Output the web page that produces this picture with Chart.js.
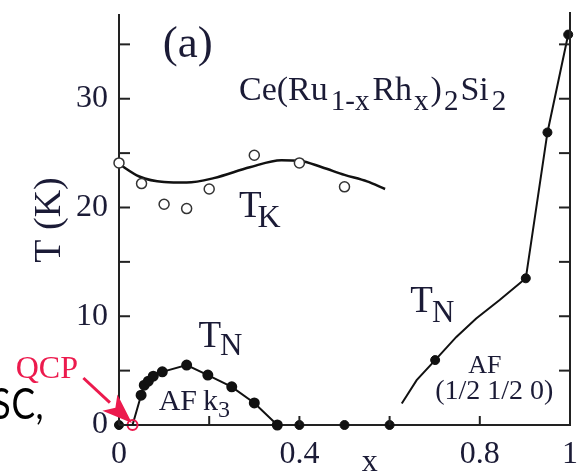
<!DOCTYPE html>
<html><head><meta charset="utf-8">
<script src="https://cdn.jsdelivr.net/npm/chart.js@4.4.1/dist/chart.umd.min.js"></script>
<style>html,body{margin:0;padding:0;background:#fff;overflow:hidden}#wrap{width:577px;height:472px;position:relative}</style>
</head><body><div id="wrap"><canvas id="c"></canvas></div>
<script>
// ---- data ----
const tkX = [0, 0.05, 0.10, 0.15, 0.20, 0.30, 0.40, 0.50];
const tkY = [24.1, 22.2, 20.3, 19.9, 21.7, 24.8, 24.1, 21.9];
const tkFitX = [0, 0.045, 0.10, 0.15, 0.21, 0.29, 0.36, 0.40, 0.45, 0.50, 0.55, 0.59];
const tkFitY = [24.0, 22.85, 22.35, 22.3, 22.7, 23.7, 24.35, 24.3, 23.7, 23.0, 22.4, 21.7];
const tnK3X = [0.03, 0.049, 0.056, 0.065, 0.076, 0.096, 0.15, 0.197, 0.25, 0.30, 0.351];
const tnK3Y = [0, 2.74, 3.66, 4.03, 4.49, 4.89, 5.51, 4.59, 3.51, 2.03, 0];
const zeroX = [0, 0.40, 0.50, 0.60];
const zeroY = [0, 0, 0, 0];
const tnHLineX = [0.627, 0.66, 0.701, 0.748, 0.792, 0.844, 0.902, 0.950, 0.996];
const tnHLineY = [1.98, 4.12, 5.97, 8.1, 9.8, 11.5, 13.49, 26.9, 35.9];
const tnHX = [0.701, 0.902, 0.950, 0.996];
const tnHY = [5.97, 13.49, 26.9, 35.9];
const qcpX = [0.03];
const qcpY = [0];
const xLabelVals = [0, 0.4, 0.8, 1];
const xLabelTexts = ['0', '0.4', '0.8', '1'];
const yLabelVals = [0, 10, 20, 30];
const yLabelTexts = ['0', '10', '20', '30'];

const pts = (xs, ys) => xs.map((x, i) => ({x: x, y: ys[i]}));
const SERIF = '"Liberation Serif", "DejaVu Serif", serif';
const TXT = '#1b1b36';
const INK = '#111111';

function seq(ctx, x, y, parts) {
  let cx = x;
  parts.forEach(p => {
    ctx.font = p.size + 'px ' + SERIF;
    cx += (p.pre || 0);
    ctx.fillText(p.t, cx, y + (p.dy || 0));
    cx += ctx.measureText(p.t).width + (p.post || 0);
  });
}

const overlay = {
  id: 'overlay',
  afterDraw(chart) {
    const ctx = chart.ctx, a = chart.chartArea;
    const xs = chart.scales.x, ys = chart.scales.y;
    const P = (xv, yv) => [xs.getPixelForValue(xv), ys.getPixelForValue(yv)];
    ctx.save();
    // right border
    ctx.strokeStyle = '#222'; ctx.lineWidth = 2;
    ctx.beginPath(); ctx.moveTo(a.right, a.top - 3); ctx.lineTo(a.right, a.bottom + 1); ctx.stroke();
    // inward ticks
    xs.ticks.forEach(t => {
      const px = xs.getPixelForValue(t.value);
      ctx.beginPath(); ctx.moveTo(px, a.bottom); ctx.lineTo(px, a.bottom - 9); ctx.stroke();
    });
    ys.ticks.forEach(t => {
      const py = ys.getPixelForValue(t.value);
      ctx.beginPath(); ctx.moveTo(a.left, py); ctx.lineTo(a.left + 11, py); ctx.stroke();
      ctx.beginPath(); ctx.moveTo(a.right, py); ctx.lineTo(a.right - 11, py); ctx.stroke();
    });
    // texts
    ctx.fillStyle = TXT; ctx.textBaseline = 'alphabetic'; ctx.textAlign = 'left';
    let p = P(0.097, 33.8);
    seq(ctx, p[0], p[1], [{t: '(a)', size: 45}]);
    p = P(0.266, 29.89);
    seq(ctx, p[0], p[1], [
      {t: 'Ce(Ru', size: 34},
      {t: '1-x', size: 29, dy: 10, pre: 3, post: 3},
      {t: 'Rh', size: 34},
      {t: 'x', size: 29, dy: 10, pre: 2, post: 2},
      {t: ')', size: 34},
      {t: '2', size: 29, dy: 10, pre: 2, post: 2},
      {t: 'Si', size: 34},
      {t: '2', size: 29, dy: 10, pre: 3}
    ]);
    p = P(0.266, 19.13);
    seq(ctx, p[0], p[1], [{t: 'T', size: 37, post: -4}, {t: 'K', size: 32, dy: 10}]);
    p = P(0.176, 7.17);
    seq(ctx, p[0], p[1], [{t: 'T', size: 37, post: -1}, {t: 'N', size: 31, dy: 8}]);
    p = P(0.646, 10.39);
    seq(ctx, p[0], p[1], [{t: 'T', size: 37, post: -1}, {t: 'N', size: 31, dy: 10}]);
    p = P(0.088, 1.38);
    seq(ctx, p[0], p[1], [{t: 'AF', size: 30, post: 6}, {t: 'k', size: 30}, {t: '3', size: 24, dy: 7}]);
    ctx.textAlign = 'center';
    ctx.font = '26px ' + SERIF;
    p = P(0.811, 4.78); ctx.fillText('AF', p[0], p[1]);
    ctx.font = '28px ' + SERIF;
    p = P(0.832, 2.35); ctx.fillText('(1/2 1/2 0)', p[0], p[1]);
    // axis titles
    ctx.font = '32px ' + SERIF;
    p = P(0.556, -4.23); ctx.fillText('x', p[0], p[1]);
    p = P(-0.130, 18.85);
    ctx.save(); ctx.translate(p[0], p[1]); ctx.rotate(-Math.PI / 2);
    ctx.font = '38px ' + SERIF; ctx.fillText('T (K)', 0, 0); ctx.restore();
    // QCP
    ctx.textAlign = 'left';
    ctx.fillStyle = '#ec1a4d'; ctx.strokeStyle = '#ec1a4d';
    ctx.font = '32px ' + SERIF;
    p = P(-0.229, 4.35); ctx.fillText('QCP', p[0], p[1]);
    const s = P(-0.079, 4.32), e = P(0.0286, 0.18);
    const ang = Math.atan2(e[1] - s[1], e[0] - s[0]);
    const hl = 30, hw = 11;
    const bx = e[0] - hl * Math.cos(ang), by = e[1] - hl * Math.sin(ang);
    ctx.lineWidth = 3;
    ctx.beginPath(); ctx.moveTo(s[0], s[1]); ctx.lineTo(bx, by); ctx.stroke();
    ctx.beginPath();
    ctx.moveTo(e[0], e[1]);
    ctx.lineTo(bx + hw * Math.sin(ang), by - hw * Math.cos(ang));
    ctx.lineTo(e[0] - 0.75 * hl * Math.cos(ang), e[1] - 0.75 * hl * Math.sin(ang));
    ctx.lineTo(bx - hw * Math.sin(ang), by + hw * Math.cos(ang));
    ctx.closePath(); ctx.fill();
    // SC, (slide text partly cut at the left edge)
    ctx.fillStyle = '#000';
    ctx.font = '43px Lato, "Open Sans", sans-serif';
    p = P(-0.165, 0.55);
    const base = p[1];
    const drawScaled = (t, x, align) => {
      ctx.save(); ctx.translate(x, base); ctx.scale(0.82, 1);
      ctx.textAlign = align; ctx.fillText(t, 0, 0); ctx.restore();
    };
    drawScaled(',', p[0] - 9, 'left');
    drawScaled('C', p[0] - 33, 'left');
    drawScaled('S', p[0] - 34, 'right');
    ctx.restore();
  }
};

new Chart(document.getElementById('c'), {
  type: 'scatter',
  data: {
    datasets: [
      {label: 'QCP', data: pts(qcpX, qcpY), pointRadius: 5, pointBorderWidth: 2,
       pointBackgroundColor: 'rgba(255,255,255,0)', pointBorderColor: '#ec1a4d', order: 0},
      {label: 'TK', data: pts(tkX, tkY), pointRadius: 5, pointBorderWidth: 1.5,
       pointBackgroundColor: '#fff', pointBorderColor: '#333', order: 1},
      {label: 'TK fit', data: pts(tkFitX, tkFitY), showLine: true, cubicInterpolationMode: 'monotone',
       borderColor: INK, borderWidth: 2.5, pointRadius: 0, order: 5},
      {label: 'TN k3', data: pts(tnK3X, tnK3Y), showLine: true, borderColor: INK, borderWidth: 2,
       pointRadius: c => c.dataIndex === 0 ? 0 : 4.5, pointBackgroundColor: INK, pointBorderColor: INK, order: 3},
      {label: 'zero', data: pts(zeroX, zeroY), pointRadius: 4.5, pointBackgroundColor: INK, pointBorderColor: INK, order: 2},
      {label: 'TN line', data: pts(tnHLineX, tnHLineY), showLine: true, borderColor: INK, borderWidth: 2,
       pointRadius: 0, order: 4},
      {label: 'TN', data: pts(tnHX, tnHY), pointRadius: 4.5, pointBackgroundColor: INK, pointBorderColor: INK, order: 2}
    ]
  },
  options: {
    responsive: true, maintainAspectRatio: false, animation: false,
    devicePixelRatio: 1,
    clip: false,
    layout: {padding: {top: 15, right: 3, left: 0, bottom: 0}},
    plugins: {legend: {display: false}, tooltip: {enabled: false}},
    scales: {
      x: {
        type: 'linear', min: 0, max: 1,
        grid: {display: true, drawOnChartArea: false, drawTicks: false},
        border: {display: true, color: '#222', width: 2},
        ticks: {
          stepSize: 0.2, autoSkip: false, maxRotation: 0, padding: 10, color: TXT,
          font: {family: SERIF, size: 32},
          callback: v => { const i = xLabelVals.findIndex(t => Math.abs(t - v) < 1e-6); return i >= 0 ? xLabelTexts[i] : ''; }
        },
        afterFit: s => { s.height = 47; s.paddingLeft = 0; s.paddingRight = 0; }
      },
      y: {
        type: 'linear', min: 0, max: 37.7,
        grid: {display: true, drawOnChartArea: false, drawTicks: false},
        border: {display: true, color: '#222', width: 2},
        ticks: {
          stepSize: 5, includeBounds: false, autoSkip: false, padding: 11, color: TXT,
          font: {family: SERIF, size: 32},
          callback: v => { const i = yLabelVals.indexOf(Math.round(v)); return (i >= 0 && Math.abs(v - Math.round(v)) < 1e-6) ? yLabelTexts[i] : ''; }
        },
        afterFit: s => { s.width = 119; s.paddingTop = 0; s.paddingBottom = 0; }
      }
    }
  },
  plugins: [overlay]
});
</script>
</body></html>
